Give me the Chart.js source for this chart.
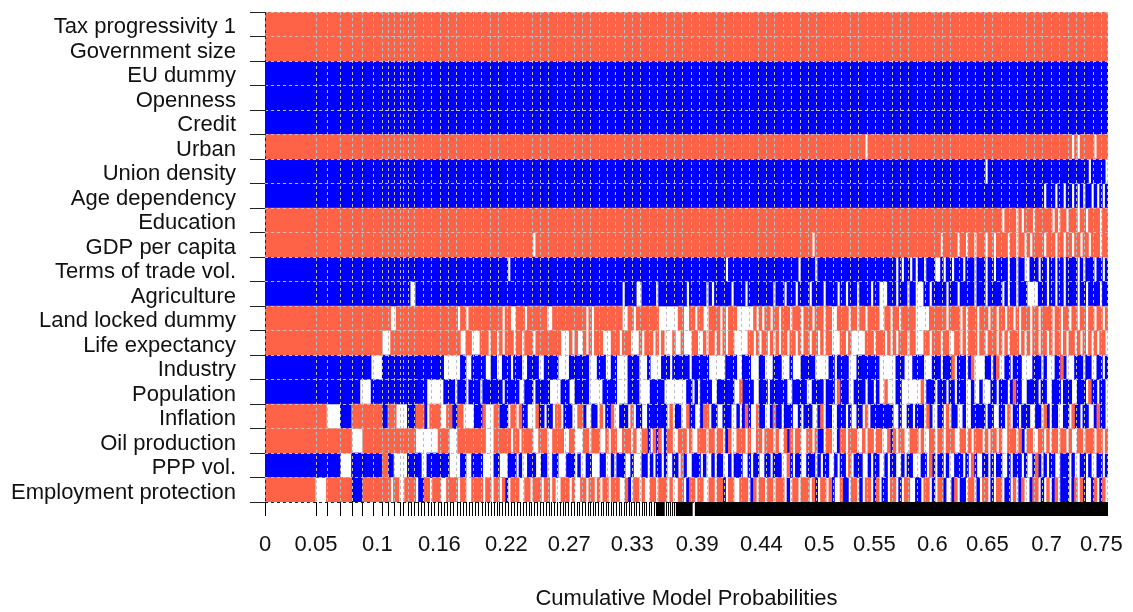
<!DOCTYPE html>
<html>
<head>
<meta charset="utf-8">
<title>Model inclusion</title>
<script src="https://cdn.jsdelivr.net/npm/chart.js@4.4.0/dist/chart.umd.min.js"></script>
<style>
  html, body { margin: 0; padding: 0; background: #fff; }
</style>
</head>
<body>
<canvas id="chart" width="1133" height="612"></canvas>
<script>
// variables, top to bottom
const variables = [
  'Tax progressivity 1', 'Government size', 'EU dummy', 'Openness', 'Credit',
  'Urban', 'Union density', 'Age dependency', 'Education', 'GDP per capita',
  'Terms of trade vol.', 'Agriculture', 'Land locked dummy', 'Life expectancy', 'Industry',
  'Population', 'Inflation', 'Oil production', 'PPP vol.', 'Employment protection'
];

// inclusion map, one column per 0.0025 of cumulative model probability,
// blocks of 20 columns (= 0.05). r = positive coef, b = negative coef, . = not included
const colWidth = 0.0025;
const xMax = 0.755;

const taxRow   = 'rrrrrrrrrrrrrrrrrrrr rrrrrrrrrrrrrrrrrrrr rrrrrrrrrrrrrrrrrrrr rrrrrrrrrrrrrrrrrrrr rrrrrrrrrrrrrrrrrrrr rrrrrrrrrrrrrrrrrrrr rrrrrrrrrrrrrrrrrrrr rrrrrrrrrrrrrrrrrrrr rrrrrrrrrrrrrrrrrrrr rrrrrrrrrrrrrrrrrrrr rrrrrrrrrrrrrrrrrrrr rrrrrrrrrrrrrrrrrrrr rrrrrrrrrrrrrrrrrrrr rrrrrrrrrrrrrrrrrrrr rrrrrrrrrrrrrrrrrrrr rr';
const govRow   = 'rrrrrrrrrrrrrrrrrrrr rrrrrrrrrrrrrrrrrrrr rrrrrrrrrrrrrrrrrrrr rrrrrrrrrrrrrrrrrrrr rrrrrrrrrrrrrrrrrrrr rrrrrrrrrrrrrrrrrrrr rrrrrrrrrrrrrrrrrrrr rrrrrrrrrrrrrrrrrrrr rrrrrrrrrrrrrrrrrrrr rrrrrrrrrrrrrrrrrrrr rrrrrrrrrrrrrrrrrrrr rrrrrrrrrrrrrrrrrrrr rrrrrrrrrrrrrrrrrrrr rrrrrrrrrrrrrrrrrrrr rrrrrrrrrrrrrrrrrrrr rr';
const euRow    = 'bbbbbbbbbbbbbbbbbbbb bbbbbbbbbbbbbbbbbbbb bbbbbbbbbbbbbbbbbbbb bbbbbbbbbbbbbbbbbbbb bbbbbbbbbbbbbbbbbbbb bbbbbbbbbbbbbbbbbbbb bbbbbbbbbbbbbbbbbbbb bbbbbbbbbbbbbbbbbbbb bbbbbbbbbbbbbbbbbbbb bbbbbbbbbbbbbbbbbbbb bbbbbbbbbbbbbbbbbbbb bbbbbbbbbbbbbbbbbbbb bbbbbbbbbbbbbbbbbbbb bbbbbbbbbbbbbbbbbbbb bbbbbbbbbbbbbbbbbbbb bb';
const openRow  = 'bbbbbbbbbbbbbbbbbbbb bbbbbbbbbbbbbbbbbbbb bbbbbbbbbbbbbbbbbbbb bbbbbbbbbbbbbbbbbbbb bbbbbbbbbbbbbbbbbbbb bbbbbbbbbbbbbbbbbbbb bbbbbbbbbbbbbbbbbbbb bbbbbbbbbbbbbbbbbbbb bbbbbbbbbbbbbbbbbbbb bbbbbbbbbbbbbbbbbbbb bbbbbbbbbbbbbbbbbbbb bbbbbbbbbbbbbbbbbbbb bbbbbbbbbbbbbbbbbbbb bbbbbbbbbbbbbbbbbbbb bbbbbbbbbbbbbbbbbbbb bb';
const creditRow = 'bbbbbbbbbbbbbbbbbbbb bbbbbbbbbbbbbbbbbbbb bbbbbbbbbbbbbbbbbbbb bbbbbbbbbbbbbbbbbbbb bbbbbbbbbbbbbbbbbbbb bbbbbbbbbbbbbbbbbbbb bbbbbbbbbbbbbbbbbbbb bbbbbbbbbbbbbbbbbbbb bbbbbbbbbbbbbbbbbbbb bbbbbbbbbbbbbbbbbbbb bbbbbbbbbbbbbbbbbbbb bbbbbbbbbbbbbbbbbbbb bbbbbbbbbbbbbbbbbbbb bbbbbbbbbbbbbbbbbbbb bbbbbbbbbbbbbbbbbbbb bb';
const urbanRow = 'rrrrrrrrrrrrrrrrrrrr rrrrrrrrrrrrrrrrrrrr rrrrrrrrrrrrrrrrrrrr rrrrrrrrrrrrrrrrrrrr rrrrrrrrrrrrrrrrrrrr rrrrrrrrrrrrrrrrrrrr rrrrrrrrrrrrrrrrrrrr rrrrrrrrrrrrrrrrrrrr rrrrrrrrrrrrrrrrrrrr rrrrrrrrrrrrrrrrrrrr rrrrrrrrrrrrrrr.rrrr rrrrrrrrrrrrrrrrrrrr rrrrrrrrrrrrrrrrrrrr rrrrrrrrrrrrrrrrrrrr rrrrrrrrr.r.rrrrr.rr rr';
const unionRow = 'bbbbbbbbbbbbbbbbbbbb bbbbbbbbbbbbbbbbbbbb bbbbbbbbbbbbbbbbbbbb bbbbbbbbbbbbbbbbbbbb bbbbbbbbbbbbbbbbbbbb bbbbbbbbbbbbbbbbbbbb bbbbbbbbbbbbbbbbbbbb bbbbbbbbbbbbbbbbbbbb bbbbbbbbbbbbbbbbbbbb bbbbbbbbbbbbbbbbbbbb bbbbbbbbbbbbbbbbbbbb bbbbbbbbbbbbbbbbbbbb bbbbbbbbbbbbbbbbbb.b bbbbbbbbbbbbbbbbbbbb bbbbbbbbbbbbbbb.bbbb b.';
const ageRow   = 'bbbbbbbbbbbbbbbbbbbb bbbbbbbbbbbbbbbbbbbb bbbbbbbbbbbbbbbbbbbb bbbbbbbbbbbbbbbbbbbb bbbbbbbbbbbbbbbbbbbb bbbbbbbbbbbbbbbbbbbb bbbbbbbbbbbbbbbbbbbb bbbbbbbbbbbbbbbbbbbb bbbbbbbbbbbbbbbbbbbb bbbbbbbbbbbbbbbbbbbb bbbbbbbbbbbbbbbbbbbb bbbbbbbbbbbbbbbbbbbb bbbbbbbbbbbbbbbbbbbb bbbbbbbbbbbbbbbbbbb. bbb.bb.bb.b.b.bb.b.b .b';
const eduRow   = 'rrrrrrrrrrrrrrrrrrrr rrrrrrrrrrrrrrrrrrrr rrrrrrrrrrrrrrrrrrrr rrrrrrrrrrrrrrrrrrrr rrrrrrrrrrrrrrrrrrrr rrrrrrrrrrrrrrrrrrrr rrrrrrrrrrrrrrrrrrrr rrrrrrrrrrrrrrrrrrrr rrrrrrrrrrrrrrrrrrrr rrrrrrrrrrrrrrrrrrrr rrrrrrrrrrrrrrrrrrrr rrrrrrrrrrrrrrrrrrrr rrrrrrrrrrrrrrrrrrrr rrrr.rrrr.r.rrr.rrrr rr.r.rr.rrr.rr.rrrr. rr';
const gdpRow   = 'rrrrrrrrrrrrrrrrrrrr rrrrrrrrrrrrrrrrrrrr rrrrrrrrrrrrrrrrrrrr rrrrrrrrrrrrrrrrrrrr rrrrrrrrrrrrrrrr.rrr rrrrrrrrrrrrrrrrrrrr rrrrrrrrrrrrrrrrrrrr rrrrrrrrrrrrrrrrrrrr rrrrrrrrrrrrrrrrrrrr rrrrrrrrrrrrrrrr.rrr rrrrrrrrrrrrrrrrrrrr rrrrrrrrrrrrrrrrrrrr rr.rrrrr.rr.rr.rrr.r r.rrrr.rr.rr.r.rrrr. rrr.rr.rr.rr.rr.rrr. rr';
const totRow   = 'bbbbbbbbbbbbbbbbbbbb bbbbbbbbbbbbbbbbbbbb bbbbbbbbbbbbbbbbbbbb bbbbbbbbbbbbbbbbbbbb bbbbbbb.bbbbbbbbbbbb bbbbbbbbbbbbbbbbbbbb bbbbbbbbbbbbbbbbbbbb bbbbbbbbbbbbbbbbbbbb bbbbb.bbbbbbbbbbbbbb bbbbbbbbbbb.bbbbb.bb bbbbbbbbbbbbbbbbbbbb bbbbbb.b.bb.b.bb.bbb ..b.bb.bbb.bbb.bbb.b b.bbbb.bb.bb..bbb.bb .bb.bb.bbbb.b.bbb.bb .b';
const agriRow  = 'bbbbbbbbbbbbbbbbbbbb bbbbbbbbbbbbbbbbbbbb bbbbbbbbbbbb..bbbbbb bbbbbbbbbbbbbbbbbbbb bbbbbbbbbbbbbbbbbbbb bbbbbbbbbbbbbbbbbbbb bbbbbbbb.bbbb..bbbbb .bbbbbbbbbb.bbbbbb.b .bbbbbb.bbbb.bbbbbbb bb.bbb.bbb.bbbb.bbbb .bbbb.bb.bbb.bbbb.bb ...bbb.bbb.bb...bb.b bbbb.bbb.bbbbb.bbb.b bbbb.b.bb.bbb....bbb .bb.bb.bbbb.bb.bbbb. bb';
const landRow  = 'rrrrrrrrrrrrrrrrrrrr rrrrrrrrrrrrrrrrrrrr rrrrr..rrrrrrrrrrrrr rrrrrrrrr.rr.rrrrrrr rrrrr.rr..rrr.rrrrrr r..rrrrrrrrrrrr.r.rr rrrrrrrr..rr.rrrrrrr r.......rr..rr.rr..r rrr.r.rrr......r.r.r r.rr.rrr.rrr.rrr.rrr .rr..rrrr.rr.rr.rrrr ..rr.rr.rrrrr.....rr rrrr.rrrr.r.rrr.rrr. rr.rr.rr.r.rrr.rr.rr rr.rr.rr.rr.rr.rr.rr .r';
const lifeRow  = 'rrrrrrrrrrrrrrrrrrrr rrrrrrrrrrrrrrrrrrrr rr...rrrrrrrrrrrrrrr rrrrrrrrrr..rr...rrr .rr.r.rrr.rr.rrr.rrr rrrrrr...r.r..r.r.rr r...rrr.rrr...r.rrr. r.r...r..r...rr..r.r r.r.r.rr.....rr.r.rr .r.r.rr.rr.r.rr.rr.r .rr...rr.r.....rrr.r rr.r.r.rrr.rr...rr.r rr.rr..rr.r.rrr.rr.r rr.r.r.rrr.r.r.rr.rr .r.rr.r.rr.r.r.r.r.r r.';
const indRow   = 'bbbbbbbbbbbbbbbbbbbb bbbbbbbbbbbbbbbbbb.. ..bbbbbbbbbbbbbbbbbb bbbb......bb..bbbbb. .bb..bbb.bbb..bbbb.. bbbbb....bbbbbbb...b bb..bb....bbbb...b.. ..bbb.bbbbbb.bbbbbb. .....bbbb..bbb...bb. ..bbb...b...bbbbb... ..bb.bbbb...bbbbbbbb ......bbb...bbbb...b bb.bbbr.bbb.br....bb .br..bb.bbb....bbb.b ...bbrb...bbb.bb..bb .b';
const popRow   = 'bbbbbbbbbbbbbbbbbbbb bbbbbbbbbbbbbb....bb bbbbbbbbbbbbbbbbbb.. ....bbbb.bbb.bbbb.bb bbbbb.bbbbb..bbb.bbb bb....bbb..bbbbb.... .bbbbb....bbbb....bb bbb........bb.b.bbbb ..bbbbbb..rbbbb..bbb .bbbbbb..bbbbb..bbbb .bbb.rbbb..bbbb.bb.b ..r...bb.......r.bbb .bbb.bb.bbb..b..b... bb.bbb.brbb..bbbb.bb ..bbb.bbb..bbb.rbb.b b.';
const inflRow  = 'rrrrrrrrrrrrrrrrrrrr rr.....bbbbrrrrrrrrr rrbbrrr....bbbrrrb.r rrr..rrbbrr....bbbr. ..rrbbb.rr.rbb...rbb .bb.rr.bbb..rrb..bb. r.bbr..bbb.r.bb..bbb bbbb.r.bb..rbb..brr. bb..bbb..b.brb..rbb. .brbb.bbb..b.bbb..br .bb..bbb.b..bb.r.bbb bbbbb..b..bb.bbb.rb. .bb.r.bb..b..bbbbb.b b..bb.r.bb.bbb..bb.r b.bb..bb.rbb.bb..brb b.';
const oilRow   = 'rrrrrrrrrrrrrrrrrrrr rrrrrrrrrrr....rrrrr rrrrrrrrrrrrrr...... ..rrrr...rrrrrrrrrr. ..rrrrrr.rr.rrrr..rr r..rrrr..rr...rr.rrr ..r.rr..rrr.r..rrb.r br.brr..rrr.r..rrr.r r.rr.br..rrr.r..rr.r rr.r..rbr.rr..rr.rbb .rr..brr.rrr..r.rr.r r..rbr.rr..rrr.r..rr .rr.rrr..rr.r.rrr.r. rr.r..rrr.rb.rr..rr. r.rr.rr.r..rr.rrr.rr .r';
const pppRow   = 'bbbbbbbbbbbbbbbbbbbb bbbbbbb....bbbbbbbbb bbrrbb.....bbbbb..bb bbbbbb....bb..bbbb.. ..bb...bbb.b..bbb..b b..bb...bbb.b..bb... bb..b.bbb..b...bb.b. bb.b..bb.rb..bbb.b.. b.bb..b.bbb..b.bb..b b.bbb..rb.bb..bbb.b. bb..b.bb.r.bbb..b.bb ..b.bb..b.bb...bb.rb .bb.b..bbb.b.rb..bb. b.bb..b.bbb.b..brb.b .bb..bbb.b..bb.b..bb .b';
const emplRow  = 'rrrrrrrrrrrrrrrrrr.. ..rrrrrrrrrbbbbrrrrr rrrrr.rr..rrrr.bbrr. rrr..rrrr.rr..rrrr.r r.rr.rb.rrr..rr.rrr. rr.r..rrr.r..rr.rr.r .rr.rrr..rb.rr.r..rr .rrr.r..rr.brr.rr..r r.rrb.rr..rrr.br.rr. rr.rrr.b.rr.rrr.rb.r r.rb..rbb.rr.b.rr.br .bb.rr.b.rr..bb.rr.b .rrb..br.bb.rr.b.rr. b.rr.bb.r.br..brr.b. r.br.bbb.br.rb..br.b r.';

const inclusionRows = [taxRow, govRow, euRow, openRow, creditRow, urbanRow, unionRow, ageRow,
  eduRow, gdpRow, totRow, agriRow, landRow, lifeRow, indRow, popRow, inflRow, oilRow, pppRow, emplRow];

// where the x labels sit (labels are these values rounded to 2 digits)
const labelPositions = [0, 0.0457, 0.1006, 0.1561, 0.2161, 0.2725, 0.3289, 0.3871, 0.4445,
  0.4964, 0.5457, 0.5977, 0.6469, 0.7, 0.749];

// model boundaries (tick marks under the plot)
const modelEdges = [0, 0.0457, 0.0556, 0.0676, 0.078, 0.0867, 0.0965, 0.1049, 0.1099, 0.1159, 0.121,
  0.124, 0.1278, 0.1308, 0.1338, 0.1368, 0.1398, 0.1428, 0.1458, 0.1488, 0.1518, 0.1548, 0.1576,
  0.1604, 0.1632, 0.166, 0.1688, 0.1716, 0.1744, 0.1772, 0.18, 0.1828, 0.1856, 0.1884, 0.1912,
  0.194, 0.1968, 0.1996, 0.2022, 0.2048, 0.2074, 0.21, 0.2126, 0.2152, 0.2178, 0.2204, 0.223,
  0.2256, 0.2282, 0.2308, 0.2334, 0.236, 0.2386, 0.2412, 0.2438, 0.2464, 0.249, 0.2515, 0.254,
  0.2565, 0.259, 0.2615, 0.264, 0.2665, 0.269, 0.2715, 0.274, 0.2765, 0.279, 0.2815, 0.284,
  0.2865, 0.289, 0.2913, 0.2936, 0.2959, 0.2982, 0.3005, 0.3028, 0.3051, 0.3074, 0.3097, 0.312,
  0.3143, 0.3166, 0.3189, 0.3212, 0.3235, 0.3258, 0.3281, 0.3304, 0.3327, 0.335, 0.3372, 0.3394,
  0.3416, 0.3438, 0.346, 0.348, 0.3498, 0.3593, 0.3611, 0.3629, 0.3647, 0.3665];
// past here the boundaries are too close to tell apart, they merge into black bands
const denseEdgeRanges = [[0.351, 0.358], [0.368, 0.383], [0.385, 0.755]];

const tomato = '#FF6347';
const blue = '#0000FF';
const dotGrey = '#bebebe';
const fontFamily = "'Liberation Sans', Arial, sans-serif";

// turn each row into runs of same sign -> floating bars
const positive = [];
const negative = [];
inclusionRows.forEach((row, r) => {
  const cells = row.replace(/\s+/g, '');
  let start = 0;
  for (let i = 1; i <= cells.length; i++) {
    if (i === cells.length || cells[i] !== cells[start]) {
      const seg = { x: [start * colWidth, i * colWidth], y: variables[r] };
      if (cells[start] === 'r') positive.push(seg);
      else if (cells[start] === 'b') negative.push(seg);
      start = i;
    }
  }
});

const decorations = {
  id: 'decorations',
  afterDatasetsDraw(chart) {
    // light dotted vertical lines across the map
    const { ctx, chartArea: a, scales: { x } } = chart;
    const stops = modelEdges.filter(v => v > 0 && v < 0.13);
    for (let v = 0.1338; v < xMax; v += 0.0075) stops.push(v);
    ctx.save();
    ctx.strokeStyle = dotGrey;
    ctx.lineWidth = 1;
    ctx.setLineDash([3, 3]);
    ctx.beginPath();
    stops.forEach(v => {
      const px = Math.round(x.getPixelForValue(v)) + 0.5;
      ctx.moveTo(px, a.top);
      ctx.lineTo(px, a.bottom);
    });
    ctx.stroke();
    ctx.restore();
  },
  afterDraw(chart) {
    const { ctx, chartArea: a, scales: { x } } = chart;
    ctx.save();
    ctx.lineWidth = 1;
    ctx.setLineDash([3, 3]);
    ctx.strokeStyle = dotGrey;
    ctx.beginPath();
    ctx.moveTo(a.left, a.top + 0.5);
    ctx.lineTo(a.right, a.top + 0.5);
    ctx.moveTo(a.right - 0.5, a.top);
    ctx.lineTo(a.right - 0.5, a.bottom);
    ctx.stroke();
    ctx.strokeStyle = '#222';
    ctx.beginPath();
    ctx.moveTo(a.left + 0.5, a.top);
    ctx.lineTo(a.left + 0.5, a.bottom);
    ctx.moveTo(a.left, a.bottom + 0.5);
    ctx.lineTo(a.right, a.bottom + 0.5);
    ctx.stroke();

    // model boundary ticks
    ctx.setLineDash([]);
    ctx.strokeStyle = '#000';
    ctx.beginPath();
    modelEdges.forEach(v => {
      const px = Math.round(x.getPixelForValue(v)) + 0.5;
      ctx.moveTo(px, a.bottom);
      ctx.lineTo(px, a.bottom + 14);
    });
    ctx.stroke();
    ctx.fillStyle = '#000';
    denseEdgeRanges.forEach(([s, e]) => {
      const p0 = x.getPixelForValue(s);
      const p1 = x.getPixelForValue(e);
      ctx.fillRect(p0, a.bottom, p1 - p0, 14);
    });
    ctx.restore();
  }
};

new Chart(document.getElementById('chart'), {
  type: 'bar',
  data: {
    labels: variables,
    datasets: [
      { label: 'positive', data: positive, backgroundColor: tomato },
      { label: 'negative', data: negative, backgroundColor: blue }
    ]
  },
  options: {
    indexAxis: 'y',
    responsive: false,
    animation: false,
    layout: { padding: { top: 12, right: 25, left: 0, bottom: 0 } },
    datasets: {
      bar: { grouped: false, barPercentage: 1, categoryPercentage: 1, borderWidth: 0 }
    },
    plugins: {
      legend: { display: false },
      tooltip: { enabled: false }
    },
    scales: {
      x: {
        type: 'linear',
        position: 'bottom',
        min: 0,
        max: xMax,
        grid: { display: false, drawTicks: false },
        border: { display: false },
        afterBuildTicks: s => { s.ticks = labelPositions.map(v => ({ value: v })); },
        afterFit: s => { s.height = 110; s.paddingLeft = 0; s.paddingRight = 0; },
        ticks: {
          autoSkip: false,
          maxRotation: 0,
          padding: 30,
          color: '#111',
          font: { family: fontFamily, size: 22 },
          callback: v => String(Number(v.toFixed(2)))
        },
        title: {
          display: true,
          text: 'Cumulative Model Probabilities',
          color: '#111',
          font: { family: fontFamily, size: 22 },
          padding: { top: 0, bottom: 0 }
        }
      },
      y: {
        type: 'category',
        offset: true,
        grid: {
          offset: true,
          color: dotGrey,
          lineWidth: 1,
          z: 1,
          tickLength: 15,
          tickColor: '#222',
          tickWidth: 1
        },
        border: { display: false, dash: [3, 3] },
        afterFit: s => { s.width = 265; s.paddingTop = 0; s.paddingBottom = 0; },
        ticks: {
          autoSkip: false,
          padding: 14,
          labelOffset: 3,
          color: '#111',
          font: { family: fontFamily, size: 22, lineHeight: 1 }
        }
      }
    }
  },
  plugins: [decorations]
});
</script>
</body>
</html>
